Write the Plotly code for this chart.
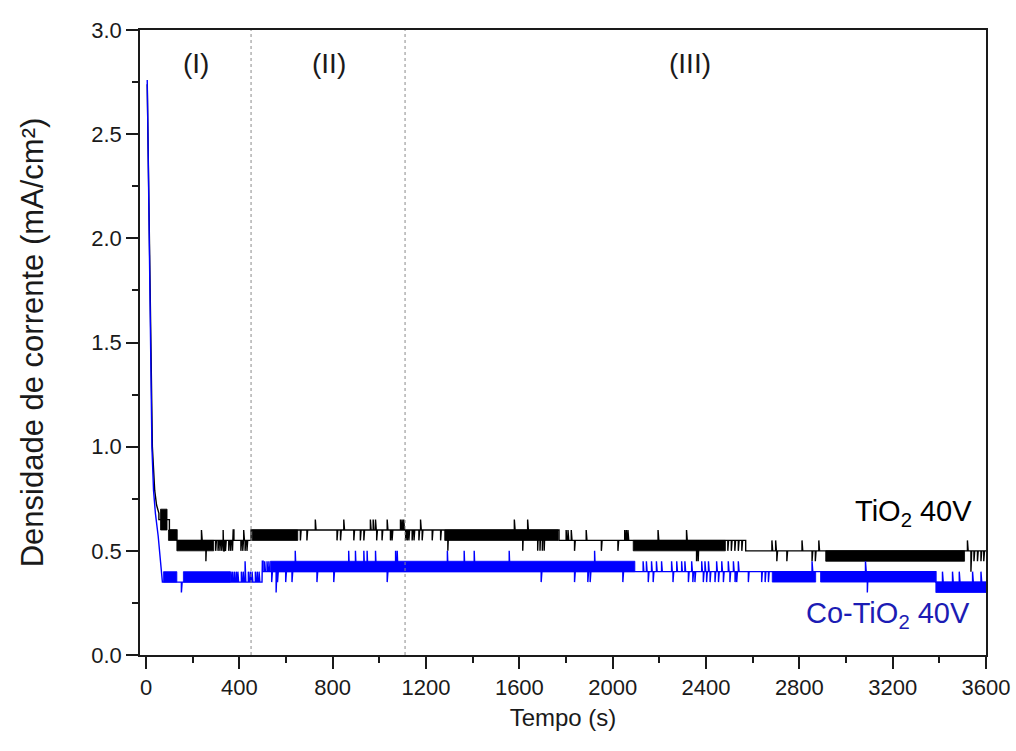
import plotly.graph_objects as go

# ---------------- data ----------------
# TiO2 40V (black)
ti_decay_t = [5, 13, 20, 27, 37, 45, 55]
ti_decay_v = [2.74, 2.05, 1.45, 1.00, 0.79, 0.72, 0.68]
ti_step_t = [55, 100, 132, 450, 1770, 2570]
ti_step_v = [0.65, 0.60, 0.55, 0.60, 0.55, 0.50]
ti_band_t0 = [62, 96, 132, 455, 1280, 2088, 2913]
ti_band_t1 = [90, 132, 290, 650, 1766, 2483, 3508]
ti_band_lo = [0.60, 0.55, 0.50, 0.55, 0.55, 0.50, 0.45]
ti_band_hi = [0.70, 0.60, 0.55, 0.60, 0.60, 0.55, 0.50]
ti_spike_t = [239, 258, 300, 310, 318, 326, 332, 334, 342, 356, 364, 372, 375, 408, 416, 420, 426, 434,
              663, 691, 727, 820, 835, 849, 892, 920, 935, 963, 975, 985, 990, 1013, 1035, 1049, 1056,
              1092, 1099, 1106, 1114, 1121, 1128, 1142, 1150, 1171, 1178, 1185, 1228, 1264,
              1295, 1580, 1616, 1637, 1680, 1690, 1700, 1708,
              1802, 1810, 1824, 1838, 1888, 1953, 2024, 2053, 2060, 2067, 2196, 2318, 2361, 2368,
              2495, 2510, 2525, 2540, 2555,
              2684, 2700, 2705, 2748, 2813, 2856, 2870, 2885, 3522, 3537, 3550, 3565, 3580, 3592]
ti_spike_v = [0.60, 0.45, 0.50, 0.50, 0.50, 0.50, 0.60, 0.50, 0.50, 0.50, 0.50, 0.50, 0.60, 0.50, 0.50, 0.60, 0.50, 0.50,
              0.55, 0.55, 0.65, 0.55, 0.55, 0.65, 0.55, 0.55, 0.55, 0.65, 0.65, 0.65, 0.55, 0.55, 0.65, 0.55, 0.55,
              0.65, 0.65, 0.65, 0.55, 0.55, 0.55, 0.55, 0.55, 0.55, 0.65, 0.55, 0.55, 0.55,
              0.50, 0.65, 0.50, 0.65, 0.50, 0.50, 0.50, 0.50,
              0.60, 0.60, 0.60, 0.50, 0.60, 0.50, 0.50, 0.60, 0.60, 0.60, 0.60, 0.60, 0.45, 0.45,
              0.50, 0.50, 0.50, 0.50, 0.50,
              0.55, 0.55, 0.45, 0.45, 0.55, 0.45, 0.45, 0.55, 0.55, 0.40, 0.45, 0.45, 0.45, 0.45]

# Co-TiO2 40V (blue)
co_decay_t = [5, 12, 19, 25, 32, 40, 52, 62, 70]
co_decay_v = [2.76, 2.05, 1.45, 1.00, 0.79, 0.68, 0.57, 0.45, 0.38]
co_step_t = [70, 497, 3385]
co_step_v = [0.35, 0.40, 0.35]
co_band_t0 = [75, 160, 533, 2684, 2891, 3385]
co_band_t1 = [132, 361, 2095, 2870, 3385, 3600]
co_band_lo = [0.35, 0.35, 0.40, 0.35, 0.35, 0.30]
co_band_hi = [0.40, 0.40, 0.45, 0.40, 0.40, 0.35]
co_spike_t = [153, 365, 372, 380, 388, 395, 410, 418, 426, 440, 448, 456, 470, 478, 486,
              500, 510, 520, 528,
              540, 559, 565, 600, 627, 641, 734, 806, 870, 899, 935, 949, 985, 1035, 1071, 1078,
              1293, 1365, 1408, 1558, 1695, 1838, 1895, 1905, 1924, 2045,
              2132, 2146, 2154, 2168, 2175, 2189, 2211, 2254, 2260, 2276, 2297, 2311, 2326, 2340, 2345, 2354,
              2383, 2390, 2397, 2404, 2412, 2419, 2440, 2447, 2455, 2469, 2476, 2497, 2504, 2519, 2526,
              2533, 2540, 2583, 2640, 2655, 2669,
              2856, 3085, 3093, 3415, 3458, 3487, 3544, 3580]
co_spike_v = [0.30, 0.40, 0.40, 0.40, 0.40, 0.40, 0.40, 0.40, 0.45, 0.40, 0.40, 0.40, 0.40, 0.40, 0.40,
              0.45, 0.45, 0.45, 0.45,
              0.35, 0.30, 0.35, 0.35, 0.35, 0.50, 0.35, 0.35, 0.50, 0.50, 0.50, 0.50, 0.50, 0.35, 0.50, 0.50,
              0.50, 0.50, 0.50, 0.50, 0.35, 0.35, 0.35, 0.35, 0.50, 0.35,
              0.45, 0.45, 0.35, 0.45, 0.35, 0.45, 0.45, 0.45, 0.35, 0.45, 0.45, 0.45, 0.35, 0.45, 0.35, 0.35,
              0.45, 0.35, 0.45, 0.35, 0.45, 0.35, 0.35, 0.45, 0.35, 0.45, 0.35, 0.45, 0.35, 0.45, 0.35,
              0.35, 0.45, 0.35, 0.35, 0.35, 0.35,
              0.45, 0.45, 0.30, 0.40, 0.40, 0.40, 0.40, 0.40]

t_end = 3600
region_bounds = [450, 1110]
region_labels = ["(I)", "(II)", "(III)"]
region_label_t = [215, 783, 2331]
region_label_y = 2.84

series_names = ["TiO<sub>2</sub> 40V", "Co-TiO<sub>2</sub> 40V"]
series_label_t = [3548, 3540]
series_label_v = [0.68, 0.19]

BLACK = "#000000"
BLUE = "#0000ff"
TXT = "#1a1a1a"
FONT = "Arial, Liberation Sans, sans-serif"


def build_line(decay_t, decay_v, step_t, step_v, spike_t, spike_v, w=1.6):
    xs, ys = list(decay_t), list(decay_v)
    bounds = list(step_t) + [t_end]
    spikes = sorted(zip(spike_t, spike_v))
    for i, lv in enumerate(step_v):
        a, b = bounds[i], bounds[i + 1]
        xs.append(a); ys.append(lv)
        for st, sv in spikes:
            if a <= st < b:
                xs += [st - w, st - w, st + w, st + w]
                ys += [lv, sv, sv, lv]
        xs.append(b); ys.append(lv)
    return xs, ys


def build_bands(t0, t1, lo, hi):
    xs, ys = [], []
    for a, b, l, h in zip(t0, t1, lo, hi):
        xs += [a, b, b, a, a, None]
        ys += [l, l, h, h, l, None]
    return xs, ys


fig = go.Figure()

series = [
    (ti_decay_t, ti_decay_v, ti_step_t, ti_step_v, ti_spike_t, ti_spike_v,
     ti_band_t0, ti_band_t1, ti_band_lo, ti_band_hi, BLACK),
    (co_decay_t, co_decay_v, co_step_t, co_step_v, co_spike_t, co_spike_v,
     co_band_t0, co_band_t1, co_band_lo, co_band_hi, BLUE),
]
for (dt, dv, stt, stv, spt, spv, b0, b1, bl, bh, col) in series:
    bx, by = build_bands(b0, b1, bl, bh)
    fig.add_trace(go.Scatter(x=bx, y=by, mode="lines", fill="toself", fillcolor=col,
                             line=dict(color=col, width=0.8), hoverinfo="skip", showlegend=False))
    lx, ly = build_line(dt, dv, stt, stv, spt, spv)
    fig.add_trace(go.Scatter(x=lx, y=ly, mode="lines", line=dict(color=col, width=1.4),
                             showlegend=False))

for rb in region_bounds:
    fig.add_shape(type="line", x0=rb, x1=rb, y0=0, y1=1, xref="x", yref="paper",
                  line=dict(color="#8a8a8a", width=1, dash="dot"))

for lab, lt in zip(region_labels, region_label_t):
    fig.add_annotation(x=lt, y=region_label_y, text=lab, showarrow=False,
                       font=dict(family=FONT, size=28, color=TXT))

for name, lt, lv, col, sz in zip(series_names, series_label_t, series_label_v,
                                 [BLACK, "#1c1cb4"], [29, 29]):
    fig.add_annotation(x=lt, y=lv, text=name, showarrow=False, xanchor="right",
                       font=dict(family=FONT, size=sz, color=col))

axis_common = dict(showline=True, linecolor=TXT, linewidth=1.5, mirror=True,
                   ticks="outside", ticklen=12, tickwidth=1.5, tickcolor=TXT,
                   showgrid=False, zeroline=False, automargin=False,
                   tickfont=dict(family=FONT, size=22, color=TXT))

fig.update_xaxes(range=[-26, 3600], tickmode="linear", tick0=0, dtick=400,
                 minor=dict(ticks="outside", ticklen=6, tickcolor=TXT, dtick=200, tick0=0),
                 title=dict(text="Tempo (s)", font=dict(family=FONT, size=24, color=TXT), standoff=10),
                 **axis_common)
fig.update_yaxes(range=[0, 3.0], tickmode="linear", tick0=0, dtick=0.5, tickformat=".1f",
                 minor=dict(ticks="outside", ticklen=6, tickcolor=TXT, dtick=0.25, tick0=0),
                 title=dict(text="Densidade de corrente (mA/cm²)",
                            font=dict(family=FONT, size=31, color=TXT), standoff=38),
                 **axis_common)

fig.update_layout(width=1016, height=751, margin=dict(l=140, r=30, t=30, b=96),
                  plot_bgcolor="white", paper_bgcolor="white", showlegend=False)

fig.write_html("out.html", config={"displayModeBar": False},
               post_script="document.body.style.margin='0';document.body.style.padding='0';")
